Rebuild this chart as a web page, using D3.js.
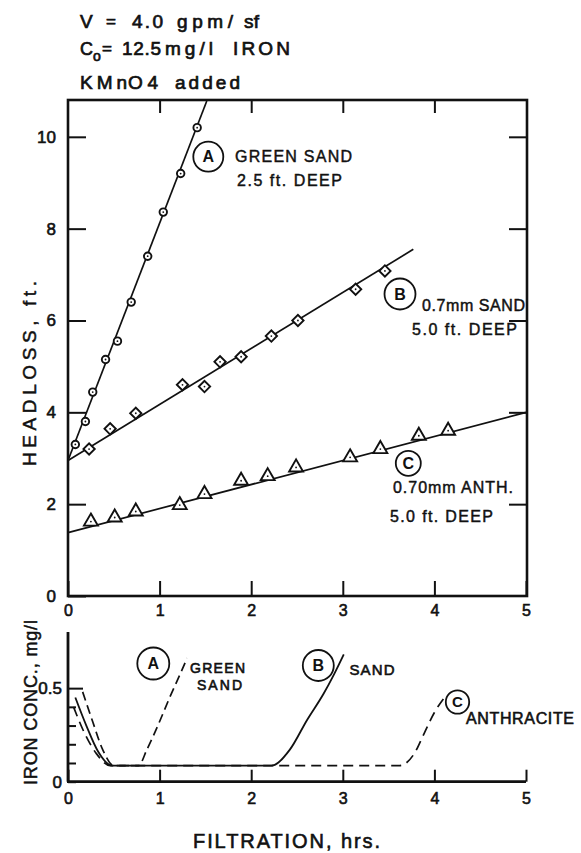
<!DOCTYPE html>
<html>
<head>
<meta charset="utf-8">
<script src="https://cdn.jsdelivr.net/npm/d3@7"></script>
<style>
  html, body { margin: 0; padding: 0; background: #fff; }
  svg { display: block; }
  text { font-family: "Liberation Sans", Arial, sans-serif; fill: #111; }
</style>
</head>
<body>
<svg id="chart" width="581" height="853"></svg>
<script>
// ---- Headloss vs filtration time (upper panel) ----
const hrsA  = [0.08, 0.19, 0.27, 0.41, 0.54, 0.69, 0.87, 1.04, 1.23, 1.41];
const headA = [3.3, 3.8, 4.44, 5.15, 5.55, 6.4, 7.4, 8.36, 9.2, 10.2];
const hrsB  = [0.23, 0.46, 0.74, 1.25, 1.49, 1.66, 1.89, 2.22, 2.51, 3.14, 3.46];
const headB = [3.2, 3.64, 3.98, 4.6, 4.56, 5.1, 5.21, 5.66, 6.0, 6.68, 7.08];
const hrsC  = [0.25, 0.51, 0.74, 1.22, 1.49, 1.89, 2.18, 2.49, 3.08, 3.41, 3.83, 4.15];
const headC = [1.62, 1.71, 1.84, 1.98, 2.22, 2.51, 2.61, 2.8, 3.02, 3.2, 3.49, 3.6];

// fitted straight lines: [start hrs, end hrs], [start ft, end ft]
const fitHrsA = [0, 1.515], fitHeadA = [2.95, 10.78];
const fitHrsB = [0, 3.77],  fitHeadB = [2.95, 7.55];
const fitHrsC = [0, 5],     fitHeadC = [1.38, 4.0];

// ---- Effluent iron concentration (lower panel) ----
const concHrsA = [0.16, 0.27, 0.38, 0.5, 0.77, 0.86, 0.99, 1.11, 1.22, 1.30];
const concA    = [0.48, 0.32, 0.17, 0.086, 0.086, 0.17, 0.31, 0.45, 0.57, 0.66];
const concHrsB = [0.08, 0.2, 0.33, 0.48, 2.22, 2.42, 2.61, 2.79, 2.90, 3.01];
const concB    = [0.45, 0.3, 0.16, 0.086, 0.086, 0.17, 0.33, 0.47, 0.57, 0.68];
const concHrsC = [0.06, 0.18, 0.31, 0.46, 3.62, 3.78, 3.89, 4.0, 4.11];
const concC    = [0.40, 0.26, 0.15, 0.086, 0.086, 0.15, 0.26, 0.37, 0.45];

// tick values
const hrsTicks  = [0, 1, 2, 3, 4, 5];
const headTicks = [0, 2, 4, 6, 8, 10];
const concTicks = [0, 0.1, 0.2, 0.3, 0.4, 0.5];
const concTickLabels = {0: "0", 0.5: "0.5"};

const svg = d3.select("#chart");
const ink = "#111";
const wide = "DejaVu Sans, Verdana, sans-serif";

const x = d3.scaleLinear().domain([0, 5]).range([68, 526]);
const yH = d3.scaleLinear().domain([0, 10.78]).range([596, 101]);
const yC = d3.scaleLinear().domain([0, 0.8]).range([781.7, 632]);

// text fitted to a drawn width: spread when short, squeezed when long
function label(txt, px, py, len, size, opts = {}) {
  const t = svg.append("text")
    .attr("x", px).attr("y", py)
    .attr("font-size", size)
    .attr("stroke", ink).attr("stroke-width", opts.sw ?? 0.45)
    .text(txt);
  if (opts.family) t.attr("font-family", opts.family);
  if (len) {
    const natural = t.node().getComputedTextLength();
    t.attr("textLength", len)
      .attr("lengthAdjust", natural > len ? "spacingAndGlyphs" : "spacing");
  }
  if (opts.rotate) t.attr("transform", `rotate(-90 ${px} ${py})`);
  return t;
}

function circled(letter, cx, cy, r, size) {
  svg.append("circle").attr("cx", cx).attr("cy", cy).attr("r", r)
    .attr("fill", "none").attr("stroke", ink).attr("stroke-width", 1.8);
  svg.append("text").attr("x", cx).attr("y", cy + size * 0.36)
    .attr("text-anchor", "middle").attr("font-size", size)
    .attr("font-weight", "bold").text(letter);
}

// ---------- header ----------
const hd = {family: wide, sw: 0.7};
label("V", 80, 28, 13, 19, hd);
label("=", 106, 27, null, 17, hd);
label("4.0", 132, 28, 31, 19, hd);
label("gpm/", 177, 28, 56, 19, hd);
label("sf", 244, 28, 15, 19, hd);
label("C", 80, 55, 13, 19, hd);
label("o", 93, 61, null, 14, hd);
label("=", 102, 54, 11, 17, hd);
label("12.5", 122, 55, 39, 19, hd);
label("mg/l", 165, 55, 48, 19, hd);
label("IRON", 233, 55, 57, 19, hd);
label("KMn", 80, 89, 47, 19, hd);
label("O4", 128, 89, 30, 19, hd);
label("added", 175, 89, 65, 19, hd);

// ---------- upper panel frame & axes ----------
const upper = svg.append("g");
upper.append("rect").attr("x", 68).attr("y", 100).attr("width", 459).attr("height", 496)
  .attr("fill", "none").attr("stroke", ink).attr("stroke-width", 2.6);

function styleAxis(g, size) {
  g.select(".domain").remove();
  g.selectAll(".tick line").attr("stroke", ink).attr("stroke-width", 2);
  g.selectAll(".tick text").attr("font-size", size).attr("fill", ink)
    .attr("stroke", ink).attr("stroke-width", 0.6)
    .attr("font-family", wide);
}

upper.append("g").attr("transform", "translate(0,596)")
  .call(d3.axisBottom(x).tickValues(hrsTicks).tickFormat(d3.format("d"))
    .tickSizeInner(-15).tickSizeOuter(0).tickPadding(9))
  .call(g => styleAxis(g, 16));
upper.append("g").attr("transform", "translate(0,100)")
  .call(d3.axisTop(x).tickValues([1, 2, 3, 4]).tickFormat("")
    .tickSizeInner(-13).tickSizeOuter(0))
  .call(g => styleAxis(g, 16));
upper.append("g").attr("transform", "translate(68,0)")
  .call(d3.axisLeft(yH).tickValues(headTicks).tickFormat(d3.format("d"))
    .tickSizeInner(-18).tickSizeOuter(0).tickPadding(12))
  .call(g => styleAxis(g, 17));
upper.append("g").attr("transform", "translate(527,0)")
  .call(d3.axisRight(yH).tickValues([2, 4, 6, 8, 10]).tickFormat("")
    .tickSizeInner(-18).tickSizeOuter(0))
  .call(g => styleAxis(g, 16));

// fitted lines
const fitLine = d3.line().x(d => x(d[0])).y(d => yH(d[1]));
[[fitHrsA, fitHeadA], [fitHrsB, fitHeadB], [fitHrsC, fitHeadC]].forEach(([hs, vs]) => {
  upper.append("path").datum(d3.zip(hs, vs)).attr("d", fitLine)
    .attr("fill", "none").attr("stroke", ink).attr("stroke-width", 1.7);
});

// markers
const symCircle = d3.symbol().type(d3.symbolCircle).size(44);
const symDiamond = d3.symbol().type(d3.symbolSquare).size(64);
const symTriangle = d3.symbol().type(d3.symbolTriangle).size(84);
function markers(hs, vs, sym, rot) {
  const g = upper.append("g");
  d3.zip(hs, vs).forEach(([h, v]) => {
    const m = g.append("g").attr("transform", `translate(${x(h)},${yH(v)})`);
    m.append("path").attr("d", sym()).attr("transform", rot ? `rotate(${rot})` : null)
      .attr("fill", "#fff").attr("stroke", ink).attr("stroke-width", 1.9);
    m.append("circle").attr("r", 0.9).attr("fill", ink);
  });
}
markers(hrsA, headA, symCircle, 0);
markers(hrsB, headB, symDiamond, 45);
markers(hrsC, headC, symTriangle, 0);

// series labels
circled("A", 208.3, 156.7, 15, 16);
label("GREEN  SAND", 235, 162, 117, 16);
label("2.5 ft. DEEP", 237, 186, 105, 16);
circled("B", 400, 294, 15.5, 16);
label("0.7mm SAND", 422, 310.5, 103, 16);
label("5.0 ft. DEEP", 412, 335, 105, 16);
circled("C", 408.3, 463.3, 12.5, 16);
label("0.70mm ANTH.", 393, 492.5, 120, 16);
label("5.0 ft. DEEP", 390, 521.5, 103, 16);

label("HEADLOSS,  ft.", 36, 466, 185, 19, {family: wide, sw: 0.5, rotate: true});

// ---------- lower panel ----------
const lower = svg.append("g");
lower.append("line").attr("x1", 68).attr("x2", 68).attr("y1", yC(0.8)).attr("y2", yC(0))
  .attr("stroke", ink).attr("stroke-width", 2.8);
lower.append("line").attr("x1", 67).attr("x2", x(5)).attr("y1", yC(0)).attr("y2", yC(0))
  .attr("stroke", ink).attr("stroke-width", 2.8);

lower.append("g").attr("transform", `translate(0,${yC(0)})`)
  .call(d3.axisBottom(x).tickValues(hrsTicks).tickFormat(d3.format("d"))
    .tickSizeInner(-12).tickSizeOuter(0).tickPadding(11))
  .call(g => styleAxis(g, 16));
lower.append("g").attr("transform", "translate(68,0)")
  .call(d3.axisLeft(yC).tickValues(concTicks).tickFormat(d => concTickLabels[d] ?? "")
    .tickSizeInner(-8).tickSizeOuter(0).tickPadding(6))
  .call(g => {
    styleAxis(g, 17);
    g.selectAll(".tick line").filter(d => d === 0.5).attr("x2", 15);
  });

const concLine = d3.line().x(d => x(d[0])).y(d => yC(d[1])).curve(d3.curveMonotoneX);
lower.append("path").datum(d3.zip(concHrsC, concC)).attr("d", concLine)
  .attr("fill", "none").attr("stroke", ink).attr("stroke-width", 1.7)
  .attr("stroke-dasharray", "10,6");
lower.append("path").datum(d3.zip(concHrsA, concA)).attr("d", concLine)
  .attr("fill", "none").attr("stroke", ink).attr("stroke-width", 1.7)
  .attr("stroke-dasharray", "9,5");
lower.append("path").datum(d3.zip(concHrsB, concB)).attr("d", concLine)
  .attr("fill", "none").attr("stroke", ink).attr("stroke-width", 1.8);

circled("A", 153.3, 663.5, 16, 16);
label("GREEN", 190, 672.5, 55, 14, {sw: 0.6});
label("SAND", 197, 690, 45, 14, {sw: 0.6});
circled("B", 318.3, 665.5, 15.5, 16);
label("SAND", 349.5, 675, 45, 15, {sw: 0.6});
circled("C", 457.5, 702, 11.7, 15);
label("ANTHRACITE", 466, 724, 108, 16, {sw: 0.6});

label("IRON  CONC., mg/l", 37, 785, 165, 18, {family: wide, sw: 0.5, rotate: true});
label("FILTRATION,  hrs.", 193, 848, 187, 20, {family: wide, sw: 0.6});
</script>
</body>
</html>
